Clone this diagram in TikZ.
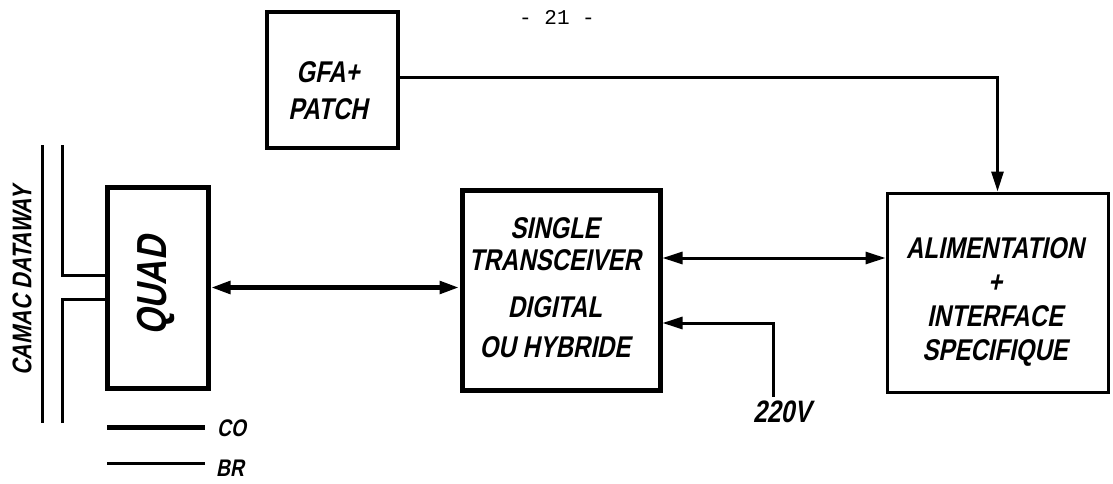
\documentclass[tikz,border=0pt]{standalone}
\usepackage{fontspec}
\newfontfamily\stencil{Liberation Sans Bold}[FakeSlant=0.2,FakeStretch=0.8]
\newfontfamily\typew{Liberation Mono}
\usetikzlibrary{arrows.meta}
\begin{document}
\begin{tikzpicture}[x=1pt,y=-1pt,
  box/.style={draw,rectangle,inner sep=0pt},
  lbl/.style={font={\stencil\fontsize{30}{40}\selectfont},align=center,inner sep=0pt},
  small/.style={font={\stencil\fontsize{24}{28}\selectfont},inner sep=0pt},
  tipend/.style={-{Triangle[length=20pt,width=12pt]}},
  tipboth/.style={{Triangle[length=20pt,width=12pt]}-{Triangle[length=20pt,width=12pt]}},
  conn/.style={line width=3pt},
  bus/.style={line width=5pt}]
\useasboundingbox (0,0) rectangle (1113,484);

% page number
\node[font={\typew\fontsize{21}{24}\selectfont},inner sep=0pt] (page) at (557,17) {- 21 -};

% boxes
\node[box,line width=4pt,minimum width=131pt,minimum height=136pt] (gfa) at (332.5,80) {};
\node[lbl,font={\stencil\fontsize{30}{37}\selectfont}] (gfalbl) at (328,91) {GFA+\\PATCH};

\node[box,line width=5pt,minimum width=101pt,minimum height=201pt] (quad) at (157.5,287.5) {};
\node[lbl,rotate=90,font={\stencil\fontsize{42}{46}\selectfont}] (quadlbl) at (156,286) {QUAD};

\node[box,line width=5pt,minimum width=198pt,minimum height=200pt] (single) at (561,290) {};
\node[lbl] (singlelbl) at (555,288) {SINGLE\\[-8pt]TRANSCEIVER\\[7pt]DIGITAL\\OU HYBRIDE};

\node[box,line width=3pt,minimum width=221pt,minimum height=199pt] (alim) at (997.5,292.5) {};
\node[lbl,font={\stencil\fontsize{30}{34}\selectfont}] (alimlbl) at (995,302) {ALIMENTATION\\+\\INTERFACE\\SPECIFIQUE};

% CAMAC dataway
\node[lbl,rotate=90,font={\stencil\fontsize{27}{30}\selectfont}] (camac) at (22,281) {CAMAC DATAWAY};
\coordinate (dwA1) at (42,145);
\coordinate (dwA2) at (42,423);
\coordinate (dwB1) at (62,145);
\coordinate (dwB2) at (62,423);
\draw[conn] (dwA1) -- (dwA2);
\draw[conn] (dwB1) |- ([yshift=12.5pt]quad.west);
\draw[conn] (dwB2) |- ([yshift=-11.5pt]quad.west);

% connectors
\draw[bus,tipboth] (quad.east) -- (quad.east -| single.west);
\draw[conn,tipboth] ([yshift=32pt]single.east) -- ([yshift=32pt]single.east -| alim.west);
\draw[conn,tipend] ([yshift=2pt]gfa.east) -| (alim.north);

\node[lbl,font={\stencil\fontsize{31}{36}\selectfont}] (v220) at (782,412) {220V};
\coordinate (c220) at (773,323);
\draw[conn,tipend] (c220 |- v220.north) ++(0,-4) -- (c220) -- (c220 -| single.east);

% legend
\node[small,anchor=west] (colbl) at (217,428) {CO};
\node[small,anchor=west] (brlbl) at (216,468) {BR};
\coordinate (co0) at (107,427);
\coordinate (br0) at (107,463);
\draw[bus] (co0) -- (co0 -| 205,0);
\draw[conn] (br0) -- (br0 -| 205,0);
\end{tikzpicture}
\end{document}
